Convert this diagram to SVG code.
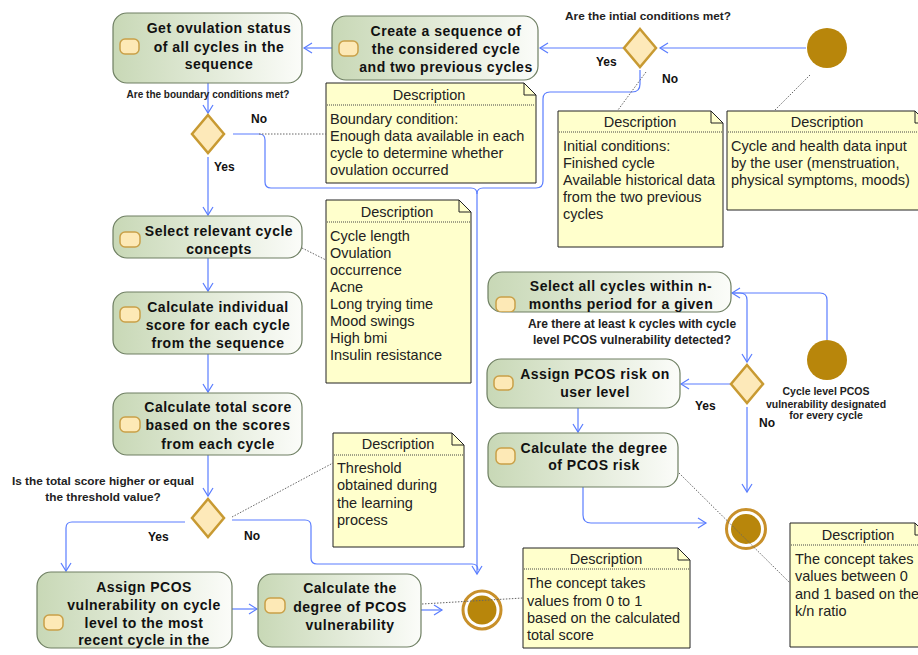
<svg xmlns="http://www.w3.org/2000/svg" width="918" height="655" viewBox="0 0 918 655">
<defs>
<linearGradient id="g" x1="0" y1="0" x2="1" y2="0">
<stop offset="0" stop-color="#c8d8b6"/>
<stop offset="1" stop-color="#fbfcf9"/>
</linearGradient>
<marker id="ar" markerUnits="userSpaceOnUse" markerWidth="12" markerHeight="12" refX="9" refY="6" orient="auto">
<path d="M1,1 L9,6 L1,11" fill="none" stroke="#5a7dff" stroke-width="1.2"/>
</marker>
<clipPath id="c1"><rect x="37" y="572" width="195" height="76" rx="14"/></clipPath>
<clipPath id="c2"><rect x="488" y="272" width="243" height="40" rx="14"/></clipPath>
</defs>
<style>
.box{fill:url(#g);stroke:#6e7f62;stroke-width:1.2}
.ic{fill:#fde9b6;stroke:#c9a048;stroke-width:1.5}
.act{font-family:"Liberation Sans",Arial,sans-serif;font-weight:bold;font-size:14px;letter-spacing:0.5px;fill:#111;text-anchor:middle}
.note{fill:#ffffcc;stroke:#222;stroke-width:1}
.sep{stroke:#444;stroke-width:1;stroke-dasharray:1,1}
.nt{font-family:"Liberation Sans",Arial,sans-serif;font-size:14.5px;fill:#222}
.ntt{font-family:"Liberation Sans",Arial,sans-serif;font-size:14.5px;fill:#222;text-anchor:middle}
.lbl{font-family:"Liberation Sans",Arial,sans-serif;font-weight:bold;font-size:10px;fill:#222;text-anchor:middle}
.yn{font-family:"Liberation Sans",Arial,sans-serif;font-weight:bold;font-size:12px;fill:#111}
.dia{fill:#fde9b9;stroke:#c89a32;stroke-width:2.5}
.start{fill:#b8860b}
.fin{fill:#fff;stroke:#c8902a;stroke-width:3}
.con{fill:none;stroke:#5a7dff;stroke-width:1.2}
.anc{fill:none;stroke:#666;stroke-width:1;stroke-dasharray:1.5,1.5}
</style>

<g id="connectors">
<path class="con" d="M806,48 H660" marker-end="url(#ar)"/>
<path class="con" d="M623,48 H540" marker-end="url(#ar)"/>
<path class="con" d="M332,48 H304" marker-end="url(#ar)"/>
<path class="con" d="M208,83 V113" marker-end="url(#ar)"/>
<path class="con" d="M208,157 V215" marker-end="url(#ar)"/>
<path class="con" d="M208,258 V291" marker-end="url(#ar)"/>
<path class="con" d="M208,354 V392" marker-end="url(#ar)"/>
<path class="con" d="M208,455 V496" marker-end="url(#ar)"/>
<path class="con" d="M185,522 H72 Q66,522 66,528 V571" marker-end="url(#ar)"/>
<path class="con" d="M232,520 H305 Q311,520 311,526 V558 Q311,564 317,564 H472 Q478,564 478,570"/>
<path class="con" d="M233,134 H259 Q265,134 265,140 V182 Q265,188 271,188 H471 Q477,188 477,194 V574" marker-end="url(#ar)"/>
<path class="con" d="M640,70 V84 Q640,92 632,92 H550 Q543,92 543,99 V181 Q543,188 536,188 H483 Q477,188 477,194"/>
<path class="con" d="M421,610 H442" marker-end="url(#ar)"/>
<path class="con" d="M232,609 H257" marker-end="url(#ar)"/>
<path class="con" d="M827,340 V300 Q827,293 820,293 H732" marker-end="url(#ar)"/>
<path class="con" d="M732,293 H740 Q747,293 747,300 V362" marker-end="url(#ar)"/>
<path class="con" d="M731,384 H681" marker-end="url(#ar)"/>
<path class="con" d="M747,407 V492" marker-end="url(#ar)"/>
<path class="con" d="M578,408 V432" marker-end="url(#ar)"/>
<path class="con" d="M583,487 V515 Q583,523 591,523 H706" marker-end="url(#ar)"/>
</g>

<g id="start1"><circle class="start" cx="827" cy="48" r="20"/></g>
<g id="start2"><circle class="start" cx="827" cy="360" r="20"/>
<text class="lbl" style="font-size:10.5px" x="826" y="395">Cycle level PCOS</text>
<text class="lbl" style="font-size:10.5px" x="826" y="407.5">vulnerability designated</text>
<text class="lbl" style="font-size:10.5px" x="826" y="419">for every cycle</text>
</g>

<g id="dec-initial"><path class="dia" d="M640,29 L656,48 L640,67 L624,48 Z"/>
<text class="lbl" style="font-size:11.8px" x="648" y="20">Are the intial conditions met?</text>
<text class="yn" x="596" y="65.5">Yes</text>
<text class="yn" x="662" y="82.5">No</text>
</g>

<g id="create-seq"><rect class="box" x="332" y="16" width="206" height="64" rx="14"/>
<rect class="ic" x="339" y="41" width="19" height="15" rx="5"/>
<text class="act" x="446" y="36">Create a sequence of</text>
<text class="act" x="446" y="53.5">the considered cycle</text>
<text class="act" x="446" y="71.5">and two previous cycles</text>
</g>

<g id="get-ovulation"><rect class="box" x="113" y="13" width="189" height="70" rx="14"/>
<rect class="ic" x="120" y="39" width="19" height="15" rx="5"/>
<text class="act" x="219" y="33">Get ovulation status</text>
<text class="act" x="219" y="51.5">of all cycles in the</text>
<text class="act" x="219" y="69">sequence</text>
</g>

<g id="dec-boundary"><path class="dia" d="M208,115 L224,134 L208,153 L192,134 Z"/>
<text class="lbl" x="208" y="98">Are the boundary conditions met?</text>
<text class="yn" x="251" y="122.5">No</text>
<text class="yn" x="214" y="170.5">Yes</text>
</g>

<g id="select-concepts"><rect class="box" x="113" y="216" width="189" height="42" rx="14"/>
<rect class="ic" x="120" y="232" width="20" height="15" rx="5"/>
<text class="act" x="219" y="236">Select relevant cycle</text>
<text class="act" x="219" y="254">concepts</text>
</g>

<g id="calc-individual"><rect class="box" x="113" y="292" width="189" height="62" rx="14"/>
<rect class="ic" x="120" y="307" width="20" height="15" rx="5"/>
<text class="act" x="218" y="312">Calculate individual</text>
<text class="act" x="218" y="330">score for each cycle</text>
<text class="act" x="218" y="348">from the sequence</text>
</g>

<g id="calc-total"><rect class="box" x="113" y="393" width="189" height="62" rx="14"/>
<rect class="ic" x="120" y="417" width="20" height="15" rx="5"/>
<text class="act" x="218" y="412">Calculate total score</text>
<text class="act" x="218" y="430">based on the scores</text>
<text class="act" x="218" y="448.5">from each cycle</text>
</g>

<g id="dec-threshold"><path class="dia" d="M208,499 L224,518 L208,537 L192,518 Z"/>
<text class="lbl" style="font-size:11.8px" x="103" y="485">Is the total score higher or equal</text>
<text class="lbl" style="font-size:11.8px" x="103" y="501">the threshold value?</text>
<text class="yn" x="148" y="540.5">Yes</text>
<text class="yn" x="244" y="539.5">No</text>
</g>

<g id="assign-vuln"><rect class="box" x="37" y="572" width="195" height="76" rx="14"/>
<rect class="ic" x="44" y="615" width="19" height="15" rx="5"/>
<g clip-path="url(#c1)">
<text class="act" x="144" y="592">Assign PCOS</text>
<text class="act" x="144" y="609.5">vulnerability on cycle</text>
<text class="act" x="144" y="628">level to the most</text>
<text class="act" x="144" y="645">recent cycle in the</text>
</g>
</g>

<g id="calc-degree-vuln"><rect class="box" x="258" y="574" width="163" height="73" rx="14"/>
<rect class="ic" x="265" y="598" width="20" height="15" rx="5"/>
<text class="act" x="350" y="593">Calculate the</text>
<text class="act" x="350" y="612">degree of PCOS</text>
<text class="act" x="350" y="629.5">vulnerability</text>
</g>

<g id="final1"><circle class="fin" cx="482" cy="610" r="19"/><circle class="start" cx="482" cy="610" r="14.5"/></g>

<g id="select-all"><rect class="box" x="488" y="272" width="243" height="40" rx="14"/>
<g clip-path="url(#c2)"><rect class="ic" x="496" y="297" width="19" height="15" rx="5"/>
<text class="act" x="621" y="291">Select all cycles within n-</text>
<text class="act" x="621" y="309">months period for a given</text>
</g>
</g>

<g id="dec-k"><path class="dia" d="M747,365 L763,384 L747,403 L731,384 Z"/>
<text class="lbl" style="font-size:12px" x="632" y="328">Are there at least k cycles with cycle</text>
<text class="lbl" style="font-size:12px" x="632" y="343.5">level PCOS vulnerability detected?</text>
<text class="yn" x="695" y="410">Yes</text>
<text class="yn" x="759" y="427">No</text>
</g>

<g id="assign-risk"><rect class="box" x="487" y="359" width="193" height="49" rx="14"/>
<rect class="ic" x="494" y="376" width="19" height="14" rx="5"/>
<text class="act" x="595" y="379">Assign PCOS risk on</text>
<text class="act" x="595" y="397">user level</text>
</g>

<g id="calc-degree-risk"><rect class="box" x="488" y="433" width="190" height="54" rx="14"/>
<rect class="ic" x="496" y="448" width="19" height="16" rx="5"/>
<text class="act" x="594" y="452.5">Calculate the degree</text>
<text class="act" x="594" y="470">of PCOS risk</text>
</g>

<g id="final2"><circle class="fin" cx="746" cy="529" r="19.5"/><circle class="start" cx="746" cy="529" r="15"/></g>

<g id="note-boundary"><path class="note" d="M326,83 H524 L536,95 V183 H326 Z"/><path d="M524,83 V95 H536" fill="none" stroke="#222"/>
<text class="ntt" x="429" y="100">Description</text><line class="sep" x1="327" y1="105" x2="535" y2="105"/>
<text class="nt" x="330" y="124">Boundary condition:</text>
<text class="nt" x="330" y="141">Enough data available in each</text>
<text class="nt" x="330" y="158">cycle to determine whether</text>
<text class="nt" x="330" y="175">ovulation occurred</text>
</g>

<g id="note-initial"><path class="note" d="M558,111 H711 L723,123 V247 H558 Z"/><path d="M711,111 V123 H723" fill="none" stroke="#222"/>
<text class="ntt" x="640" y="127">Description</text><line class="sep" x1="559" y1="132" x2="722" y2="132"/>
<text class="nt" x="563" y="151">Initial conditions:</text>
<text class="nt" x="563" y="168">Finished cycle</text>
<text class="nt" x="563" y="185">Available historical data</text>
<text class="nt" x="563" y="202">from the two previous</text>
<text class="nt" x="563" y="219">cycles</text>
</g>

<g id="note-input"><path class="note" d="M727,111 H915 L927,123 V210 H727 Z"/><path d="M915,111 V123 H927" fill="none" stroke="#222"/>
<text class="ntt" x="827" y="127">Description</text><line class="sep" x1="728" y1="132" x2="926" y2="132"/>
<text class="nt" x="731" y="151">Cycle and health data input</text>
<text class="nt" x="731" y="168">by the user (menstruation,</text>
<text class="nt" x="731" y="185">physical symptoms, moods)</text>
</g>

<g id="note-concepts"><path class="note" d="M326,200 H459 L471,212 V383 H326 Z"/><path d="M459,200 V212 H471" fill="none" stroke="#222"/>
<text class="ntt" x="397" y="217">Description</text><line class="sep" x1="327" y1="222" x2="470" y2="222"/>
<text class="nt" x="330" y="240.5">Cycle length</text>
<text class="nt" x="330" y="257.5">Ovulation</text>
<text class="nt" x="330" y="275">occurrence</text>
<text class="nt" x="330" y="292">Acne</text>
<text class="nt" x="330" y="309">Long trying time</text>
<text class="nt" x="330" y="326">Mood swings</text>
<text class="nt" x="330" y="343">High bmi</text>
<text class="nt" x="330" y="360">Insulin resistance</text>
</g>

<g id="note-threshold"><path class="note" d="M333,433 H452 L464,445 V547 H333 Z"/><path d="M452,433 V445 H464" fill="none" stroke="#222"/>
<text class="ntt" x="398" y="449">Description</text><line class="sep" x1="334" y1="455" x2="463" y2="455"/>
<text class="nt" x="337" y="473">Threshold</text>
<text class="nt" x="337" y="490">obtained during</text>
<text class="nt" x="337" y="507.5">the learning</text>
<text class="nt" x="337" y="525">process</text>
</g>

<g id="note-total"><path class="note" d="M523,548 H678 L690,560 V648 H523 Z"/><path d="M678,548 V560 H690" fill="none" stroke="#222"/>
<text class="ntt" x="606" y="564">Description</text><line class="sep" x1="524" y1="569" x2="689" y2="569"/>
<text class="nt" x="527" y="588">The concept takes</text>
<text class="nt" x="527" y="605.5">values from 0 to 1</text>
<text class="nt" x="527" y="622.5">based on the calculated</text>
<text class="nt" x="527" y="639.5">total score</text>
</g>

<g id="note-kn"><path class="note" d="M790,523 H915 L927,535 V647 H790 Z"/><path d="M915,523 V535 H927" fill="none" stroke="#222"/>
<text class="ntt" x="858" y="540">Description</text><line class="sep" x1="791" y1="545" x2="926" y2="545"/>
<text class="nt" x="795" y="564">The concept takes</text>
<text class="nt" x="795" y="581">values between 0</text>
<text class="nt" x="795" y="598.5">and 1 based on the</text>
<text class="nt" x="795" y="615.5">k/n ratio</text>
</g>

<g id="anchors">
<path class="anc" d="M259,134 H326"/>
<path class="anc" d="M646,72 L618,110"/>
<path class="anc" d="M810,75 L775,110"/>
<path class="anc" d="M302,248 L326,260"/>
<path class="anc" d="M232,517 L333,463"/>
<path class="anc" d="M422,604 L523,598"/>
<path class="anc" d="M679,473 L790,583"/>
</g>
</svg>
